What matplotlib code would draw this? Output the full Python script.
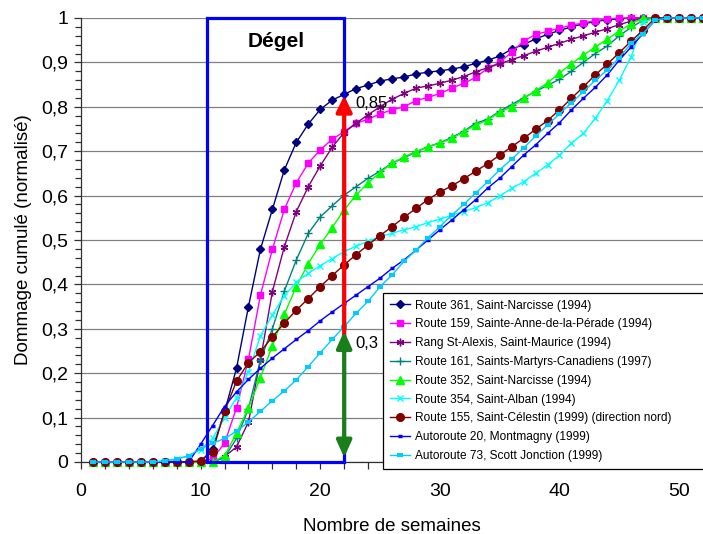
import matplotlib
matplotlib.use("Agg")
import matplotlib.pyplot as plt
from matplotlib.patches import Rectangle, FancyArrowPatch
from matplotlib.ticker import MultipleLocator, FuncFormatter

plt.rcParams['font.family'] = ['Liberation Sans', 'DejaVu Sans']

# weeks 1..52
weeks = list(range(1, 53))

route_361 = [0, 0, 0, 0, 0, 0, 0, 0, 0, 0,
             0.03, 0.113, 0.211, 0.35, 0.479, 0.569, 0.658, 0.72, 0.761, 0.794,
             0.815, 0.828, 0.841, 0.849, 0.858, 0.863, 0.867, 0.874, 0.878, 0.881,
             0.885, 0.89, 0.898, 0.905, 0.914, 0.93, 0.94, 0.953, 0.963, 0.972,
             0.98, 0.987, 0.992, 0.996, 0.998, 1, 1, 1, 1, 1, 1, 1]
route_159 = [0, 0, 0, 0, 0, 0, 0, 0, 0, 0,
             0.008, 0.042, 0.122, 0.231, 0.376, 0.479, 0.569, 0.629, 0.673, 0.703,
             0.727, 0.744, 0.763, 0.772, 0.784, 0.793, 0.80, 0.814, 0.821, 0.83,
             0.842, 0.853, 0.866, 0.887, 0.90, 0.923, 0.948, 0.963, 0.97, 0.977,
             0.984, 0.989, 0.994, 0.998, 1, 1, 1, 1, 1, 1, 1, 1]
rang_st_alexis = [0, 0, 0, 0, 0, 0, 0, 0, 0, 0,
                  0, 0.012, 0.034, 0.09, 0.23, 0.384, 0.485, 0.564, 0.62, 0.667,
                  0.709, 0.742, 0.763, 0.782, 0.80, 0.817, 0.83, 0.842, 0.847, 0.853,
                  0.86, 0.868, 0.879, 0.888, 0.897, 0.906, 0.915, 0.925, 0.934, 0.943,
                  0.952, 0.96, 0.968, 0.976, 0.985, 0.993, 1, 1, 1, 1, 1, 1]
route_161 = [0, 0, 0, 0, 0, 0, 0, 0, 0, 0,
             0, 0.01, 0.053, 0.12, 0.23, 0.30, 0.385, 0.455, 0.515, 0.552,
             0.577, 0.601, 0.62, 0.639, 0.655, 0.673, 0.685, 0.698, 0.71, 0.719,
             0.731, 0.745, 0.763, 0.772, 0.79, 0.805, 0.82, 0.835, 0.848, 0.862,
             0.88, 0.90, 0.92, 0.937, 0.96, 0.979, 0.995, 1, 1, 1, 1, 1]
route_352 = [0, 0, 0, 0, 0, 0, 0, 0, 0, 0,
             0, 0.014, 0.065, 0.122, 0.19, 0.262, 0.333, 0.395, 0.447, 0.49,
             0.528, 0.568, 0.601, 0.629, 0.652, 0.673, 0.687, 0.699, 0.71, 0.718,
             0.729, 0.744, 0.759, 0.77, 0.788, 0.80, 0.819, 0.836, 0.854, 0.876,
             0.897, 0.916, 0.935, 0.952, 0.971, 0.987, 1, 1, 1, 1, 1, 1]
route_354 = [0, 0, 0, 0, 0, 0, 0.003, 0.007, 0.014, 0.028,
             0.053, 0.10, 0.145, 0.203, 0.284, 0.331, 0.375, 0.405, 0.425, 0.442,
             0.458, 0.474, 0.486, 0.497, 0.508, 0.515, 0.523, 0.53, 0.539, 0.547,
             0.556, 0.564, 0.573, 0.584, 0.599, 0.616, 0.631, 0.65, 0.669, 0.691,
             0.718, 0.74, 0.774, 0.814, 0.86, 0.913, 0.99, 1, 1, 1, 1, 1]
route_155 = [0, 0, 0, 0, 0, 0, 0, 0, 0, 0.003,
             0.023, 0.114, 0.182, 0.224, 0.248, 0.282, 0.313, 0.342, 0.368, 0.395,
             0.42, 0.444, 0.467, 0.489, 0.51, 0.53, 0.551, 0.571, 0.591, 0.608,
             0.622, 0.638, 0.655, 0.672, 0.691, 0.71, 0.729, 0.749, 0.769, 0.793,
             0.819, 0.845, 0.872, 0.896, 0.922, 0.948, 0.973, 1, 1, 1, 1, 1]
autoroute_20 = [0, 0, 0, 0, 0, 0, 0, 0, 0, 0.04,
                0.082, 0.125, 0.158, 0.186, 0.211, 0.234, 0.255, 0.276, 0.296, 0.318,
                0.338, 0.357, 0.376, 0.395, 0.414, 0.436, 0.455, 0.477, 0.50, 0.523,
                0.545, 0.568, 0.591, 0.617, 0.639, 0.665, 0.691, 0.714, 0.74, 0.764,
                0.793, 0.819, 0.844, 0.872, 0.905, 0.935, 0.965, 0.995, 1, 1, 1, 1]
autoroute_73 = [0, 0, 0, 0, 0, 0, 0.002, 0.006, 0.014, 0.03,
                0.042, 0.053, 0.069, 0.09, 0.114, 0.138, 0.16, 0.185, 0.215, 0.246,
                0.276, 0.305, 0.335, 0.362, 0.395, 0.421, 0.452, 0.477, 0.505, 0.53,
                0.556, 0.58, 0.606, 0.631, 0.658, 0.682, 0.707, 0.734, 0.759, 0.784,
                0.809, 0.834, 0.86, 0.883, 0.911, 0.943, 0.965, 0.995, 1, 1, 1, 1]

labels = [
    'Route 361, Saint-Narcisse (1994)',
    'Route 159, Sainte-Anne-de-la-Pérade (1994)',
    'Rang St-Alexis, Saint-Maurice (1994)',
    'Route 161, Saints-Martyrs-Canadiens (1997)',
    'Route 352, Saint-Narcisse (1994)',
    'Route 354, Saint-Alban (1994)',
    'Route 155, Saint-Célestin (1999) (direction nord)',
    'Autoroute 20, Montmagny (1999)',
    'Autoroute 73, Scott Jonction (1999)',
]
series = [route_361, route_159, rang_st_alexis, route_161, route_352,
          route_354, route_155, autoroute_20, autoroute_73]

# Dégel window and annotations
degel_start = 10.56
degel_end = 22
arrow_x = 22
red_top = 0.825
green_bottom = 0.01
green_top = 0.295

# colour, marker, size, edge width for each series (Excel-like)
styles = [
    ('#000080', 'D', 4.0, 1.0),
    ('#FF00FF', 's', 5.0, 1.0),
    ('#800080', (6, 2, 0), 5.5, 1.0),
    ('#008080', '+', 5.5, 1.0),
    ('#00FF00', '^', 5.5, 1.0),
    ('#00FFFF', 'x', 5.0, 1.0),
    ('#800000', 'o', 5.5, 1.0),
    ('#0000FF', '_', 3.5, 2.5),
    ('#00CCFF', '_', 5.0, 3.0),
]

fig = plt.figure(figsize=(7.03, 5.34), dpi=100)
ax = fig.add_axes([81 / 703, 72 / 534, 622 / 703, 444 / 534])

for values, label, (color, marker, ms, mew) in zip(series, labels, styles):
    ax.plot(weeks, values, color=color, lw=1.0, marker=marker, markersize=ms,
            markeredgewidth=mew, markerfacecolor=color, markeredgecolor=color,
            label=label, clip_on=False, zorder=3)

ax.set_xlim(0, 52)
ax.set_ylim(0, 1)

# Grid and axes look
ax.yaxis.grid(True, color='#808080', lw=0.9)
ax.set_axisbelow(True)
for side in ['top', 'right']:
    ax.spines[side].set_visible(False)
for side in ['left', 'bottom']:
    ax.spines[side].set_color('#303030')
    ax.spines[side].set_linewidth(0.9)
    ax.spines[side].set_zorder(2.5)

ax.xaxis.set_major_locator(MultipleLocator(10))
ax.xaxis.set_minor_locator(MultipleLocator(2))
ax.yaxis.set_major_locator(MultipleLocator(0.1))
ax.yaxis.set_minor_locator(MultipleLocator(0.02))
ax.yaxis.set_major_formatter(FuncFormatter(lambda v, p: ('%g' % round(v, 1)).replace('.', ',')))
ax.tick_params(axis='both', which='both', direction='out', color='#303030', width=0.9)
ax.tick_params(axis='x', which='both', length=5, labelsize=14, pad=10)
ax.tick_params(axis='y', which='major', length=5, labelsize=14, pad=4)
ax.tick_params(axis='y', which='minor', length=4)

ax.set_xlabel('Nombre de semaines', fontsize=13.5, labelpad=13)
ax.set_ylabel('Dommage cumulé (normalisé)', fontsize=13.5, labelpad=7)

# Dégel box
ax.add_patch(Rectangle((degel_start, 0), degel_end - degel_start, 1, fill=False,
                       edgecolor='#0000FF', lw=2.3, clip_on=False, zorder=4))
ax.text((degel_start + degel_end) / 2, 0.947, 'Dégel', fontsize=15, fontweight='bold',
        ha='center', va='center', zorder=5)

# Red arrow (up) and green double arrow
ax.add_patch(FancyArrowPatch((arrow_x, green_top - 0.01), (arrow_x, red_top),
                             arrowstyle='-|>,head_length=9.5,head_width=4.7',
                             mutation_scale=1, color='#FF0000', lw=3,
                             shrinkA=0, shrinkB=0, zorder=6, clip_on=False))
ax.add_patch(FancyArrowPatch((arrow_x, green_bottom), (arrow_x, green_top),
                             arrowstyle='<|-|>,head_length=10,head_width=4.5',
                             mutation_scale=1, color='#1A7F1A', lw=3,
                             shrinkA=0, shrinkB=0, zorder=7, clip_on=False))
ax.text(22.9, 0.808, '0,85', fontsize=12, ha='left', va='center', zorder=8)
ax.text(22.9, 0.267, '0,3', fontsize=12, ha='left', va='center', zorder=8)

# Legend box runs past the right edge of the figure, as in the original
leg_x0 = (383 - 81) / 622
leg_top = (462 - 293) / 444
leg_h = (293 - 465) / 444
leg = ax.legend(loc='upper left', mode='expand',
                bbox_to_anchor=(leg_x0, leg_top + leg_h, 1.03 - leg_x0, -leg_h),
                fontsize=8.6, frameon=True, fancybox=False, edgecolor='black',
                framealpha=1, numpoints=1, handlelength=1.7, handletextpad=0.45,
                labelspacing=0.57, borderpad=0.55, borderaxespad=0)
leg.get_frame().set_linewidth(0.9)
leg.set_zorder(10)

fig.savefig('out.png', dpi=100)
